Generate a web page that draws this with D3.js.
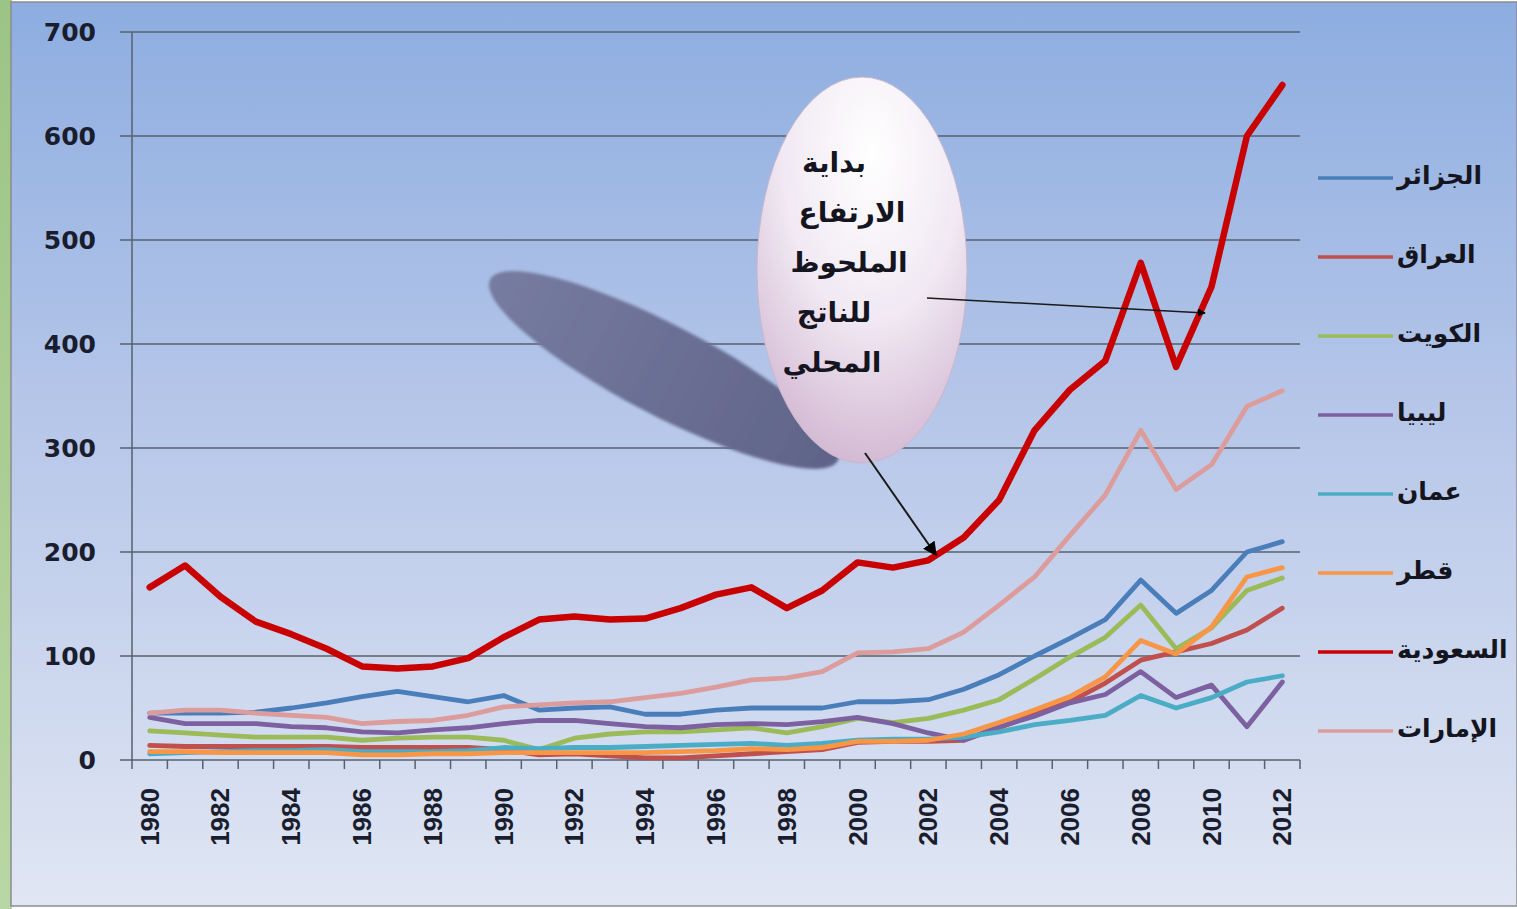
<!DOCTYPE html>
<html>
<head>
<meta charset="utf-8">
<title>الناتج المحلي 1980-2012</title>
<style type="text/css">
	body { margin: 0; background: #ffffff; }
	#chart { width: 1517px; height: 909px; display: block; }
	.yLabel { font-family: "DejaVu Sans"; font-size: 25px; font-weight: bold; fill: #1a1d2e; text-anchor: end; }
	.xLabel { font-family: "Liberation Sans", Arial; font-size: 26px; font-weight: bold; fill: #1a1d2e; text-anchor: end; }
	.legendText { font-family: "DejaVu Sans"; font-size: 25px; font-weight: bold; fill: #15151f; }
	.noteText { font-family: "DejaVu Sans"; font-size: 28px; font-weight: bold; fill: #15151f; text-anchor: middle; }
	.grid { stroke: #56616e; stroke-width: 1.5px; }
	.series { fill: none; stroke-linejoin: round; stroke-linecap: round; }
</style>
</head>
<body>

<svg id="chart"></svg>

<script src="https://cdn.jsdelivr.net/npm/d3@7/dist/d3.min.js"></script>
<script>

var years = d3.range(1980, 2013);

var yTicks = [0, 100, 200, 300, 400, 500, 600, 700];

var countries = ['الجزائر', 'العراق', 'الكويت', 'ليبيا', 'عمان', 'قطر', 'السعودية', 'الإمارات'];

var colors = ['#4a7ebb', '#c0504d', '#9bbb59', '#7d60a0', '#4bacc6', '#f79646', '#c80000', '#dc9c9c'];

var algeria = [45,45,45,46,50,55,61,66,61,56,62,48,50,51,44,44,48,50,50,50,56,56,58,68,82,100,117,135,173,141,163,200,210];
var iraq    = [14,13,13,13,13,13,12,12,12,12,10,5,6,4,2,2,4,6,8,10,17,18,18,19,31,44,56,74,96,104,112,125,146];
var kuwait  = [28,26,24,22,22,22,19,21,22,22,19,10,21,25,27,27,29,31,26,32,40,36,40,48,58,78,99,118,149,107,127,163,175];
var libya   = [41,35,35,35,32,31,27,26,29,31,35,38,38,35,32,31,34,35,34,37,41,35,26,19,32,42,55,63,85,60,72,32,75];
var oman    = [6,7,8,9,9,10,8,8,8,9,12,11,12,12,13,14,15,16,14,16,19,20,20,22,27,34,38,43,62,50,60,75,81];
var qatar   = [8,8,7,7,7,7,5,5,6,6,7,7,7,7,7,8,9,11,10,12,18,18,19,25,36,48,61,80,115,102,128,176,185];
var saudi   = [166,187,157,133,121,107,90,88,90,98,118,135,138,135,136,146,159,166,146,163,190,185,192,214,250,317,356,384,478,378,455,600,649];
var uae     = [45,48,48,45,43,41,35,37,38,43,51,53,55,56,60,64,70,77,79,85,103,104,107,123,149,176,216,255,317,260,284,340,355];

var seriesValues = [algeria, iraq, kuwait, libya, oman, qatar, saudi, uae];

var noteLines = ['بداية', 'الارتفاع', 'الملحوظ', 'للناتج', 'المحلي'];

var svg = d3.select('#chart');
var defs = svg.append('defs');

var bgGrad = defs.append('linearGradient').attr('id', 'bgGrad').attr('x1', 0).attr('y1', 0).attr('x2', 0).attr('y2', 1);
bgGrad.append('stop').attr('offset', '0%').attr('stop-color', '#8dade0');
bgGrad.append('stop').attr('offset', '50%').attr('stop-color', '#bac9ea');
bgGrad.append('stop').attr('offset', '100%').attr('stop-color', '#e0e6f3');

var greenGrad = defs.append('linearGradient').attr('id', 'greenGrad').attr('x1', 0).attr('y1', 0).attr('x2', 0).attr('y2', 1);
greenGrad.append('stop').attr('offset', '0%').attr('stop-color', '#9cc486');
greenGrad.append('stop').attr('offset', '100%').attr('stop-color', '#b9d7a4');

var ovalGrad = defs.append('radialGradient').attr('id', 'ovalGrad').attr('cx', '0.55').attr('cy', '0.2').attr('r', '0.85');
ovalGrad.append('stop').attr('offset', '0%').attr('stop-color', '#ffffff');
ovalGrad.append('stop').attr('offset', '50%').attr('stop-color', '#f1e9f3');
ovalGrad.append('stop').attr('offset', '100%').attr('stop-color', '#d0b4d0');

var shadowGrad = defs.append('linearGradient').attr('id', 'shadowGrad').attr('x1', 0).attr('y1', 0).attr('x2', 1).attr('y2', 0);
shadowGrad.append('stop').attr('offset', '0%').attr('stop-color', '#767ba0');
shadowGrad.append('stop').attr('offset', '100%').attr('stop-color', '#5f6388');

defs.append('filter').attr('id', 'soft').append('feGaussianBlur').attr('stdDeviation', 1.5);

defs.append('marker')
	.attr('id', 'head')
	.attr('viewBox', '0 0 10 10')
	.attr('refX', 9).attr('refY', 5)
	.attr('markerWidth', 8).attr('markerHeight', 8)
	.attr('markerUnits', 'userSpaceOnUse')
	.attr('orient', 'auto')
	.append('path')
	.attr('d', 'M0,0 L10,5 L0,10 Z')
	.attr('fill', '#000');

defs.append('marker')
	.attr('id', 'headBig')
	.attr('viewBox', '0 0 10 10')
	.attr('refX', 9).attr('refY', 5)
	.attr('markerWidth', 14).attr('markerHeight', 14)
	.attr('markerUnits', 'userSpaceOnUse')
	.attr('orient', 'auto')
	.append('path')
	.attr('d', 'M0,0 L10,5 L0,10 Z')
	.attr('fill', '#000');

// background + frame
svg.append('rect').attr('x', 0).attr('y', 0).attr('width', 12).attr('height', 909).attr('fill', 'url(#greenGrad)');
svg.append('rect').attr('x', 11).attr('y', 2).attr('width', 1506).attr('height', 904)
	.attr('fill', 'url(#bgGrad)').attr('stroke', '#8c8c8c').attr('stroke-width', 1.5);

var x = d3.scaleBand().domain(years).range([132, 1300]).padding(0);
var y = d3.scaleLinear().domain([0, 700]).range([760, 32]);

function cx(yr) { return x(yr) + x.bandwidth() / 2; }

// gridlines
svg.selectAll('.grid')
	.data(yTicks)
	.enter()
	.append('line')
	.classed('grid', true)
	.attr('x1', 120).attr('x2', 1300)
	.attr('y1', function(d) { return y(d); })
	.attr('y2', function(d) { return y(d); });

svg.append('line').classed('grid', true)
	.attr('x1', 132).attr('x2', 132).attr('y1', y(700)).attr('y2', y(0));

// x ticks between categories
svg.selectAll('.xTick')
	.data(years.concat([2013]))
	.enter()
	.append('line')
	.classed('grid', true)
	.attr('x1', function(d, i) { return 132 + i * x.bandwidth(); })
	.attr('x2', function(d, i) { return 132 + i * x.bandwidth(); })
	.attr('y1', y(0)).attr('y2', y(0) + 9);

svg.selectAll('.yLabel')
	.data(yTicks)
	.enter()
	.append('text')
	.classed('yLabel', true)
	.attr('x', 96)
	.attr('y', function(d) { return y(d) + 9; })
	.text(function(d) { return d; });

svg.selectAll('.xLabel')
	.data(years.filter(function(d) { return d % 2 === 0; }))
	.enter()
	.append('text')
	.classed('xLabel', true)
	.attr('transform', function(d) { return 'translate(' + (cx(d) + 9) + ',788) rotate(-90)'; })
	.text(function(d) { return d; });

// series
var line = d3.line()
	.x(function(d, i) { return cx(years[i]); })
	.y(function(d) { return y(d); });

svg.selectAll('.series')
	.data(seriesValues)
	.enter()
	.append('path')
	.classed('series', true)
	.attr('d', function(d) { return line(d); })
	.attr('stroke', function(d, i) { return colors[i]; })
	.attr('stroke-width', function(d, i) { return i === 6 ? 6.5 : 4.8; });

// legend
var legend = svg.selectAll('.legendItem')
	.data(countries)
	.enter()
	.append('g')
	.classed('legendItem', true)
	.attr('transform', function(d, i) { return 'translate(0,' + (178 + i * 79) + ')'; });

legend.append('line')
	.attr('x1', 1318).attr('x2', 1393).attr('y1', 0).attr('y2', 0)
	.attr('stroke', function(d, i) { return colors[i]; })
	.attr('stroke-width', 3.5);

legend.append('text')
	.classed('legendText', true)
	.attr('x', 1397)
	.attr('y', 6)
	.text(function(d) { return d; });

// callout
svg.append('ellipse')
	.attr('transform', 'translate(664,370) rotate(27.5)')
	.attr('rx', 196).attr('ry', 45)
	.attr('fill', 'url(#shadowGrad)')
	.attr('filter', 'url(#soft)');

svg.append('ellipse')
	.attr('cx', 862).attr('cy', 270)
	.attr('rx', 105).attr('ry', 193)
	.attr('fill', 'url(#ovalGrad)')
	.attr('stroke', '#c9b6cc').attr('stroke-width', 1);

var noteX = [834, 852, 849, 834, 832];

svg.selectAll('.noteText')
	.data(noteLines)
	.enter()
	.append('text')
	.classed('noteText', true)
	.attr('x', function(d, i) { return noteX[i]; })
	.attr('y', function(d, i) { return 172 + i * 50; })
	.text(function(d) { return d; });

svg.append('line')
	.attr('x1', 927).attr('y1', 298).attr('x2', 1205).attr('y2', 313)
	.attr('stroke', '#1a1a1a').attr('stroke-width', 1.5)
	.attr('marker-end', 'url(#head)');

svg.append('line')
	.attr('x1', 865).attr('y1', 453).attr('x2', 936).attr('y2', 555)
	.attr('stroke', '#1a1a1a').attr('stroke-width', 2)
	.attr('marker-end', 'url(#headBig)');

</script>
</body>
</html>
